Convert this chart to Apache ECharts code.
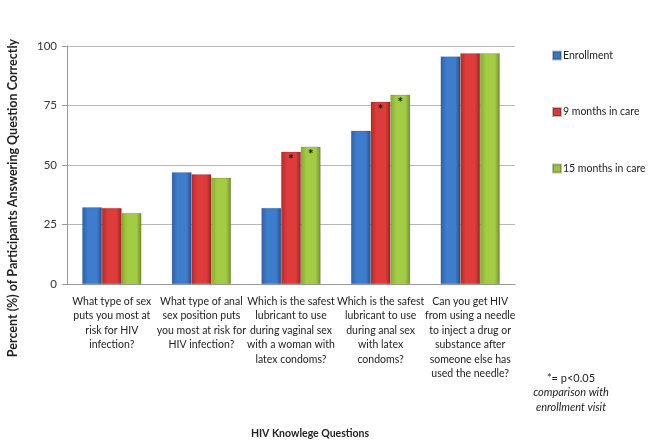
<!DOCTYPE html>
<html>
<head>
<meta charset="utf-8">
<script src="https://cdn.jsdelivr.net/npm/echarts@6/dist/echarts.min.js"></script>
<style>html,body{margin:0;padding:0;background:#fff}#c{width:652px;height:441px}</style>
</head>
<body>
<div id="c"></div>
<script>
const categories = [
  "What type of sex\nputs you most at\nrisk for HIV\ninfection?",
  "What type of anal\nsex position puts\nyou most at risk for\nHIV infection?",
  "Which is the safest\nlubricant to use\nduring vaginal sex\nwith a woman with\nlatex condoms?",
  "Which is the safest\nlubricant to use\nduring anal sex\nwith latex\ncondoms?",
  "Can you get HIV\nfrom using a needle\nto inject a drug or\nsubstance after\nsomeone else has\nused the needle?"
];
const seriesNames = ["Enrollment", "9 months in care", "15 months in care"];
const enrollment = [32.2, 47.0, 31.9, 64.4, 95.6];
const months9 = [31.9, 46.1, 55.6, 76.6, 97.0];
const months15 = [29.8, 44.6, 57.7, 79.5, 97.0];
const sig9 = [false, false, true, true, false];
const sig15 = [false, false, true, true, false];
const yTicks = [0, 25, 50, 75, 100];

const font = "Lato, 'Open Sans', sans-serif";
function grad(c0, c1, c2) {
  return new echarts.graphic.LinearGradient(0, 0, 1, 0, [
    {offset: 0, color: c0}, {offset: 0.3, color: c1}, {offset: 0.75, color: c1}, {offset: 1, color: c2}
  ]);
}
const colors = [
  grad('#2f62a8', '#3d7dcc', '#24508e'),
  grad('#b82a2a', '#de3b3b', '#a02222'),
  grad('#86ad33', '#a3cc44', '#6f922a')
];
const legendColors = ['#3a78c4', '#d63a3a', '#9bc43e'];

function mk(name, vals, sig, i) {
  return {
    name: name, type: 'bar', barGap: '0%', barCategoryGap: '34%',
    itemStyle: {color: colors[i], borderColor: 'rgba(0,0,0,0.25)', borderWidth: 0.5},
    data: vals.map((v, k) => ({
      value: v,
      label: {show: !!(sig && sig[k]), position: 'insideTop', distance: 2, formatter: '*',
        color: '#111', fontSize: 13, fontWeight: 'bold', fontFamily: font}
    }))
  };
}

const chart = echarts.init(document.getElementById('c'), null, {renderer: 'canvas'});
chart.setOption({
  animation: false,
  color: legendColors,
  grid: {left: 67, right: 137, top: 46, bottom: 157},
  legend: {
    orient: 'vertical', left: 547, top: 45, itemGap: 45.5,
    itemWidth: 8, itemHeight: 8, icon: 'rect',
    textStyle: {fontFamily: font, fontSize: 10.5, color: '#222', padding: [0, 0, 0, -3]},
    data: seriesNames.map((n, i) => ({name: n, itemStyle: {color: legendColors[i]}}))
  },
  xAxis: {
    type: 'category', data: categories,
    axisLine: {lineStyle: {color: '#999'}},
    axisTick: {show: false},
    axisLabel: {interval: 0, fontFamily: font, fontSize: 10.5, color: '#222', lineHeight: 14.5, margin: 10}
  },
  yAxis: {
    type: 'value', min: 0, max: 100, interval: 25,
    axisLine: {show: true, lineStyle: {color: '#999'}},
    axisTick: {show: true, length: 5, inside: false, lineStyle: {color: '#999'}},
    splitLine: {lineStyle: {color: '#b8b8b8'}},
    axisLabel: {fontFamily: font, fontSize: 11.5, color: '#333', margin: 10,
      formatter: v => yTicks.includes(v) ? String(v) : ''}
  },
  graphic: [
    {type: 'text', x: 13, y: 198, rotation: Math.PI / 2, style: {
      text: 'Percent (%) of Participants Answering Question Correctly',
      font: 'bold 12.5px ' + font, fill: '#222', textAlign: 'center', textVerticalAlign: 'middle'}},
    {type: 'text', x: 310, y: 434, style: {text: 'HIV Knowlege Questions',
      font: 'bold 10.5px ' + font, fill: '#222', textAlign: 'center', textVerticalAlign: 'middle'}},
    {type: 'text', x: 571, y: 378, style: {text: '*= p<0.05',
      font: '11px ' + font, fill: '#222', textAlign: 'center', textVerticalAlign: 'middle'}},
    {type: 'text', x: 571, y: 392, style: {text: 'comparison with',
      font: 'italic 11px ' + font, fill: '#222', textAlign: 'center', textVerticalAlign: 'middle'}},
    {type: 'text', x: 571, y: 407, style: {text: 'enrollment visit',
      font: 'italic 11px ' + font, fill: '#222', textAlign: 'center', textVerticalAlign: 'middle'}}
  ],
  series: [
    mk(seriesNames[0], enrollment, null, 0),
    mk(seriesNames[1], months9, sig9, 1),
    mk(seriesNames[2], months15, sig15, 2)
  ]
});
</script>
</body>
</html>
